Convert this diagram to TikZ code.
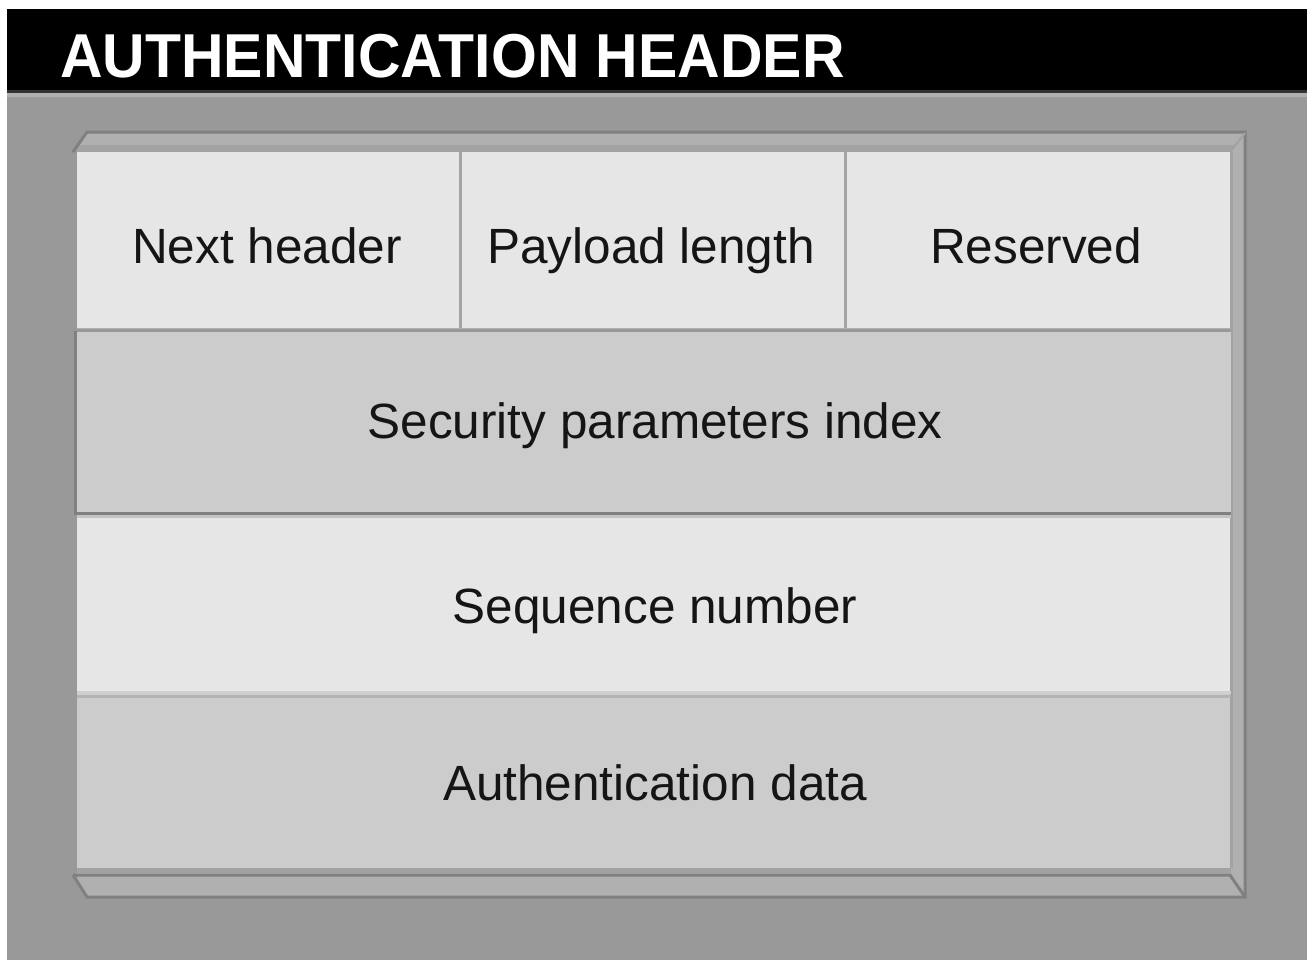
\documentclass[tikz,border=0pt]{standalone}
\usepackage{fontspec}
\setmainfont{Liberation Sans}
\definecolor{panelgrey}{HTML}{999999}
\definecolor{bevelgrey}{HTML}{B0B0B0}
\definecolor{bevelshade}{HTML}{A2A2A2}
\definecolor{edgegrey}{HTML}{808080}
\definecolor{rulegrey}{HTML}{333333}
\definecolor{cellpale}{HTML}{E6E6E6}
\definecolor{celldark}{HTML}{CCCCCC}
\definecolor{sepgrey}{HTML}{A4A4A4}
\definecolor{inktext}{HTML}{151515}
\tikzset{
  fieldcell/.style={draw=none, inner sep=0pt, text=inktext,
    font=\fontsize{24.75pt}{28pt}\selectfont,
    text height=17.8pt, text depth=0pt},
  fieldtext/.style={inner sep=0pt, text=inktext,
    font=\fontsize{24.75pt}{28pt}\selectfont, anchor=base},
  titletext/.style={inner sep=0pt, text=white,
    font=\fontsize{31pt}{34pt}\selectfont\bfseries},
  edgeline/.style={draw=edgegrey, line width=1.5pt},
  sepline/.style={line width=1.5pt}
}
\begin{document}
\begin{tikzpicture}[x=0.5pt,y=-0.5pt]
\useasboundingbox (0,0) rectangle (1307,960);
\fill[white] (0,0) rectangle (1307,960);
% grey panel and black title bar
\fill[panelgrey] (7,9) rectangle (1307,960);
\fill[black] (7,9) rectangle (1307,90);
\fill[rulegrey] (7,90) rectangle (1307,93);
\fill[bevelgrey] (7,93) rectangle (1307,97);
\node[titletext, anchor=base west] (title) at (60,77)
  {\scalebox{0.95}[1]{AUTHENTICATION HEADER}};

% raised slab behind the fields
\fill[bevelgrey] (77,150) -- (87,132) -- (1245,132) -- (1245,897)
  -- (87,897) -- (77,880) -- cycle;
\fill[bevelshade] (80,145) -- (1234,145) -- (1230,152) -- (77,152) -- cycle;
\fill[bevelshade] (1229,152) rectangle (1233,868);
\fill[bevelshade] (77,866) rectangle (1231,873);
\draw[edgeline] (73,152) -- (87,132) -- (1245,132) -- (1245,897)
  -- (87,897) -- (73,875);
\draw[edgeline] (73,875) -- (1230,875) -- (1245,897);
\draw[draw=bevelshade, line width=1pt] (1230,152) -- (1245,133);

% the six header fields
\node[fieldcell, fill=cellpale, minimum width=191.5pt, minimum height=89pt]
  (next) at (268.5,241) {};
\node[fieldcell, fill=cellpale, minimum width=192.5pt, minimum height=89pt]
  (paylen) at (652.5,241) {};
\node[fieldcell, fill=cellpale, minimum width=192.5pt, minimum height=89pt]
  (reserved) at (1037.5,241) {};
\node[fieldcell, fill=celldark, minimum width=577.5pt, minimum height=91pt]
  (spi) at (653,422) {};
\node[fieldcell, fill=cellpale, minimum width=576.5pt, minimum height=89.5pt]
  (seq) at (653.5,603.5) {};
\node[fieldcell, fill=celldark, minimum width=576.5pt, minimum height=87pt]
  (auth) at (653.5,781) {};

% field names, placed on their baselines
\node[fieldtext] (nextlabel) at (267,263) {Next header};
\node[fieldtext] (paylenlabel) at (651,263) {Payload length};
\node[fieldtext] (reservedlabel) at (1036,263) {Reserved};
\node[fieldtext] (spilabel) at (655,438) {Security parameters index};
\node[fieldtext] (seqlabel) at (655,623) {Sequence number};
\node[fieldtext] (authlabel) at (655,800) {Authentication data};

% separators between fields
\draw[sepline, draw=sepgrey] (next.north east) -- (next.south east);
\draw[sepline, draw=sepgrey] (paylen.north east) -- (paylen.south east);
\draw[sepline, draw=bevelgrey] (77,329.5) -- (1231,329.5);
\draw[sepline, draw=panelgrey] (spi.north west) -- (spi.north east);
\draw[sepline, draw=edgegrey] (spi.north west) -- (spi.south west)
  -- (spi.south east);
\draw[sepline, draw=cellpale!85!black] (77,516) -- (1231,516);
\draw[sepline, draw=celldark!95!white] (77,692) -- (1231,692);
\draw[sepline, draw=bevelgrey!95!white] (77,696) -- (1231,696);
\end{tikzpicture}
\end{document}
